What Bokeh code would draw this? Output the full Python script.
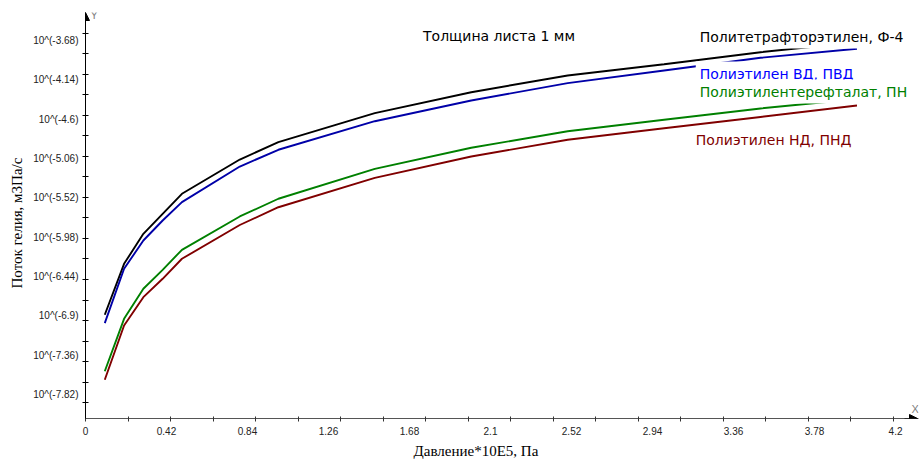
import math
from bokeh.plotting import figure
from bokeh.models import Range1d, FixedTicker, Label, Arrow, NormalHead, Title
from bokeh.embed import file_html
from bokeh.resources import INLINE

# ---- data (exponents of helium flux, log10) ----
pressure = [0.1, 0.2, 0.3, 0.4, 0.5, 0.8, 1.0, 1.5, 2.0, 2.5, 3.0, 3.5, 4.0]
ptfe = [-6.888, -6.292, -5.941, -5.707, -5.473, -5.072, -4.869, -4.530, -4.285, -4.089, -3.957, -3.817, -3.700]
ldpe = [-6.986, -6.350, -6.019, -5.785, -5.571, -5.154, -4.958, -4.624, -4.382, -4.179, -4.031, -3.882, -3.777]
pet = [-7.548, -6.935, -6.584, -6.362, -6.128, -5.738, -5.531, -5.181, -4.935, -4.741, -4.607, -4.475, -4.364]
hdpe = [-7.648, -7.013, -6.682, -6.467, -6.233, -5.838, -5.630, -5.286, -5.037, -4.841, -4.706, -4.574, -4.440]

series_names = ["Политетрафторэтилен, Ф-4", "Полиэтилен ВД, ПВД",
                "Полиэтилентерефталат, ПН", "Полиэтилен НД, ПНД"]

x_tick_values = [0, 0.42, 0.84, 1.26, 1.68, 2.1, 2.52, 2.94, 3.36, 3.78, 4.2]
x_tick_labels = ["0", "0.42", "0.84", "1.26", "1.68", "2.1", "2.52", "2.94", "3.36", "3.78", "4.2"]
y_tick_values = [-3.68, -4.14, -4.6, -5.06, -5.52, -5.98, -6.44, -6.9, -7.36, -7.82]
y_tick_labels = ["10^(-3.68)", "10^(-4.14)", "10^(-4.6)", "10^(-5.06)", "10^(-5.52)",
                 "10^(-5.98)", "10^(-6.44)", "10^(-6.9)", "10^(-7.36)", "10^(-7.82)"]

title_text = "Толщина листа 1 мм"
x_title = "Давление*10E5, Па"
y_title = "Поток гелия, м3Па/с"

# ---- geometry helpers (picture px -> data) ----
X0, XPU = 84.0, 193.1      # px of x=0, px per unit
Y0, YPU = 40.0, 85.5       # px of y=-3.68, px per unit

def px2x(sx):
    return (sx - X0) / XPU

def px2y(sy):
    return -3.68 - (sy - Y0) / YPU

W, H = 920, 462
LEFT, RIGHT, TOP, BOTTOM = 84, 918, 12, 418
p = figure(width=W, height=H, output_backend="svg", toolbar_location=None,
           x_range=Range1d(0, px2x(RIGHT)), y_range=Range1d(px2y(BOTTOM), px2y(TOP)),
           min_border_left=LEFT, min_border_right=W - RIGHT,
           min_border_top=TOP, min_border_bottom=H - BOTTOM)
p.title.visible = False
p.outline_line_color = None
p.grid.grid_line_color = None
p.background_fill_color = "white"
p.border_fill_color = "white"

tick_font = "Liberation Sans"
tick_size = "10px"

xa = p.xaxis[0]
xa.ticker = FixedTicker(ticks=x_tick_values,
                        minor_ticks=[px2x(84 + 42.56 * n) for n in range(20)])
xa.major_label_overrides = {float(v): s for v, s in zip(x_tick_values, x_tick_labels)}
xa.major_tick_in = 0
xa.major_tick_out = 0
xa.minor_tick_in = 2
xa.minor_tick_out = 3
xa.minor_tick_line_color = "#333333"
xa.axis_line_color = "#555555"
xa.major_label_standoff = 5
xa.major_label_text_font = tick_font
xa.major_label_text_font_size = tick_size
xa.major_label_text_color = "#222222"

ya = p.yaxis[0]
ya.ticker = FixedTicker(ticks=y_tick_values,
                        minor_ticks=[px2y(32.5 + 20.54 * n) for n in range(19)])
ya.major_label_overrides = {float(v): s for v, s in zip(y_tick_values, y_tick_labels)}
ya.major_tick_in = 0
ya.major_tick_out = 0
ya.minor_tick_in = 3
ya.minor_tick_out = 3
ya.minor_tick_line_color = "#000000"
ya.axis_line_color = "#000000"
ya.major_label_standoff = 4
ya.major_label_text_font = tick_font
ya.major_label_text_font_size = tick_size
ya.major_label_text_color = "#222222"

# axis titles as side-panel titles
p.add_layout(Title(text=x_title, align="left", offset=412 - LEFT,
                   text_font="Liberation Serif", text_font_size="15px",
                   text_font_style="normal", text_color="#000000", standoff=6), "below")
p.add_layout(Title(text=y_title, align="left", offset=BOTTOM - 288,
                   text_font="Liberation Serif", text_font_size="15px",
                   text_font_style="normal", text_color="#000000", standoff=12), "left")

# ---- curves ----
line_colors = ["#000000", "#0000a8", "#008000", "#800000"]
label_colors = ["#000000", "#0000ff", "#008000", "#800000"]
for ys, c in zip([ptfe, ldpe, pet, hdpe], line_colors):
    p.line(pressure, ys, line_color=c, line_width=1.9)

# ---- series labels (white boxes over the lines) ----
label_pos = [(695, 36), (695, 73), (695, 91), (691, 139)]
for name, col, (sx, sy) in zip(series_names, label_colors, label_pos):
    p.add_layout(Label(x=px2x(sx), y=px2y(sy), text=name, text_color=col,
                       text_font="DejaVu Sans", text_font_size="14px",
                       text_align="left", text_baseline="middle", padding=4,
                       background_fill_color="white", background_fill_alpha=1.0))

p.add_layout(Label(x=px2x(498), y=px2y(35), text=title_text, text_color="#000000",
                   text_font="DejaVu Sans", text_font_size="14px",
                   text_align="center", text_baseline="middle"))

# axis letters
p.add_layout(Label(x=px2x(89), y=px2y(14), text="Y", text_color="#808080",
                   text_font="Liberation Sans", text_font_size="11px",
                   text_align="left", text_baseline="middle"))
p.add_layout(Label(x=px2x(911), y=px2y(408), text="X", text_color="#808080",
                   text_font="Liberation Sans", text_font_size="11px",
                   text_align="left", text_baseline="middle"))

# arrows at the axis ends
p.add_layout(Arrow(x_start=0, y_start=px2y(24), x_end=0, y_end=px2y(12),
                   line_color="black", line_width=1,
                   end=NormalHead(size=8, fill_color="black", line_color="black")))
p.add_layout(Arrow(x_start=px2x(904), y_start=px2y(418), x_end=px2x(917), y_end=px2y(418),
                   line_color="black", line_width=1,
                   end=NormalHead(size=8, fill_color="black", line_color="black")))

open("out.html", "w").write(file_html(p, INLINE))
